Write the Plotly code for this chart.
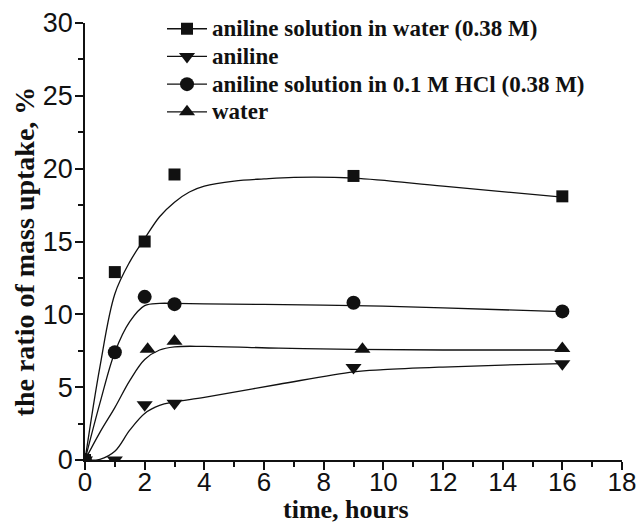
import plotly.graph_objects as go

# ---- data ----
series_names = [
    "aniline solution in water (0.38 M)",
    "aniline",
    "aniline solution in 0.1 M HCl (0.38 M)",
    "water",
]
symbols = ["square", "triangle-down", "circle", "triangle-up"]

# measured points
sq_x = [0, 1, 2, 3, 9, 16]
sq_y = [0, 12.9, 15.0, 19.6, 19.5, 18.1]
an_x = [0, 1, 2, 3, 9, 16]
an_y = [0, 0.0, 3.8, 3.9, 6.35, 6.6]
hcl_x = [0, 1, 2, 3, 9, 16]
hcl_y = [0, 7.4, 11.2, 10.7, 10.8, 10.2]
wat_x = [0, 2.1, 3, 9.3, 16]
wat_y = [0, 7.6, 8.15, 7.6, 7.65]

# fitted curves
sq_cx = [0, 0.5, 1, 1.5, 2, 2.5, 3, 3.5, 4, 5, 6, 7, 9, 12, 16]
sq_cy = [0, 6.4, 11.4, 13.6, 15.2, 16.7, 17.7, 18.4, 18.8, 19.15, 19.3, 19.4, 19.35, 18.8, 18.05]
an_cx = [0, 0.5, 1, 1.5, 2, 2.5, 3, 4, 6.5, 9, 10, 12, 14, 16]
an_cy = [0, 0.05, 0.6, 2.05, 3.2, 3.75, 3.98, 4.3, 5.2, 6.05, 6.2, 6.38, 6.52, 6.62]
hcl_cx = [0, 0.5, 1, 1.5, 2, 2.5, 3, 4, 6, 9, 12, 16]
hcl_cy = [0, 3.9, 7.4, 9.5, 10.6, 10.75, 10.75, 10.72, 10.68, 10.6, 10.45, 10.18]
wat_cx = [0, 0.5, 1, 1.5, 2, 2.5, 3, 4, 6.5, 9, 12, 16]
wat_cy = [0, 1.9, 3.6, 5.45, 6.9, 7.55, 7.77, 7.8, 7.68, 7.6, 7.55, 7.55]

x_ticks = [0, 2, 4, 6, 8, 10, 12, 14, 16, 18]
y_ticks = [0, 5, 10, 15, 20, 25, 30]

points = [(sq_x, sq_y), (an_x, an_y), (hcl_x, hcl_y), (wat_x, wat_y)]
curves = [(sq_cx, sq_cy), (an_cx, an_cy), (hcl_cx, hcl_cy), (wat_cx, wat_cy)]
msizes = [12, 14, 14, 14]

INK = "#111111"
SERIF = "Liberation Serif, Times New Roman, serif"
SANS = "Liberation Sans, Arial, sans-serif"

fig = go.Figure()
for i, name in enumerate(series_names):
    cx, cy = curves[i]
    fig.add_trace(go.Scatter(x=cx, y=cy, mode="lines",
                             line=dict(color=INK, width=1.3, shape="spline", smoothing=1.0),
                             showlegend=False, hoverinfo="skip"))
for i, name in enumerate(series_names):
    px, py = points[i]
    fig.add_trace(go.Scatter(x=px, y=py, mode="markers", showlegend=False, name=name,
                             marker=dict(symbol=symbols[i], size=msizes[i], color=INK, line=dict(width=0))))
    # legend entry (line + marker sample)
    fig.add_trace(go.Scatter(x=[None], y=[None], mode="lines+markers",
                             name=f'<span style="font-size:23px">{name}</span>',
                             line=dict(color=INK, width=1.3),
                             marker=dict(symbol=symbols[i], size=msizes[i], color=INK)))

axis_common = dict(
    showline=True, linecolor=INK, linewidth=1.5, mirror=False,
    ticks="outside", ticklen=8, tickwidth=1.5, tickcolor=INK,
    showgrid=False, zeroline=False,
)

fig.update_xaxes(range=[0, 18], tickvals=x_ticks, ticktext=[str(v) for v in x_ticks],
                 minor=dict(dtick=1, ticks="outside", ticklen=5, tickwidth=1.5, tickcolor=INK, tick0=0),
                 ticklabelstandoff=-10,
                 tickfont=dict(family=SANS, size=26, color=INK),
                 **axis_common)
fig.update_yaxes(range=[0, 30], tickvals=y_ticks, ticktext=[str(v) for v in y_ticks],
                 minor=dict(dtick=2.5, ticks="outside", ticklen=5, tickwidth=1.5, tickcolor=INK, tick0=0),
                 ticklabelstandoff=-3,
                 tickfont=dict(family=SANS, size=27, color=INK),
                 **axis_common)

fig.add_annotation(text="time, hours", xref="paper", yref="paper", x=0.486, y=-0.114,
                   xanchor="center", yanchor="middle", showarrow=False,
                   font=dict(family=SERIF, size=26, color=INK, weight="bold"))
fig.add_annotation(text="the ratio of mass uptake, %", xref="paper", yref="paper", x=-0.112, y=0.477,
                   xanchor="center", yanchor="middle", showarrow=False, textangle=-90,
                   font=dict(family=SERIF, size=28, color=INK, weight="bold"))

fig.update_layout(
    width=638, height=525,
    margin=dict(l=85, r=16, t=23, b=65, autoexpand=False),
    paper_bgcolor="white", plot_bgcolor="white",
    legend=dict(x=0.1434, y=1.03, xanchor="left", yanchor="top", bgcolor="rgba(0,0,0,0)",
                font=dict(family=SERIF, size=19, color=INK, weight="bold"),
                tracegroupgap=0, itemsizing="trace", itemwidth=40),
)

fig.write_html("out.html", config={"displayModeBar": False},
               post_script="document.body.style.margin='0';document.body.style.overflow='hidden';"
                           "document.documentElement.style.overflow='hidden';")
